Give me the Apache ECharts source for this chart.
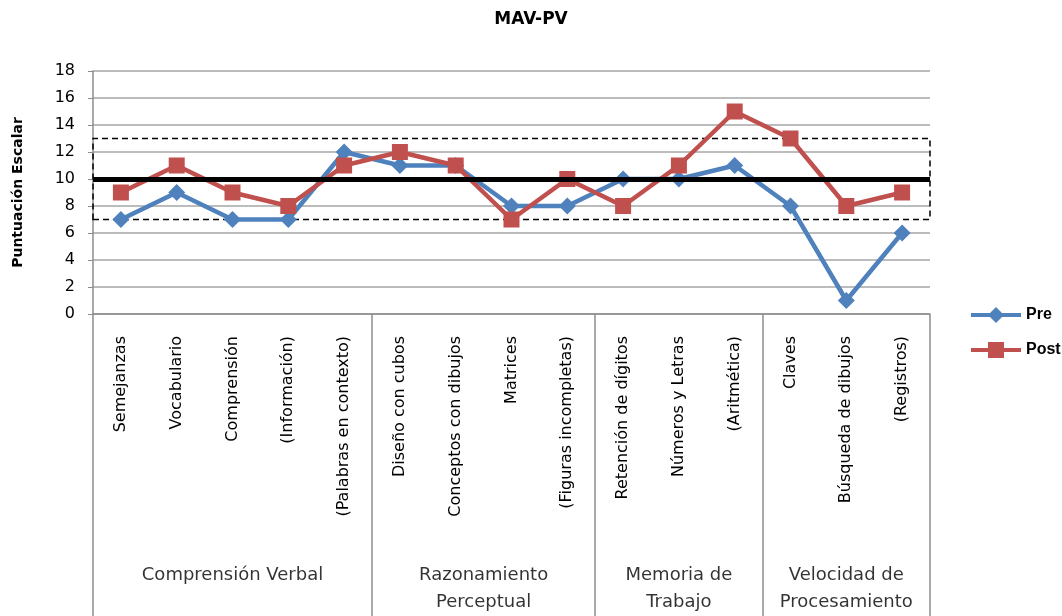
<!DOCTYPE html>
<html>
<head>
<meta charset="utf-8">
<script src="https://cdn.jsdelivr.net/npm/echarts@6/dist/echarts.min.js"></script>
<style>
  html, body { margin: 0; padding: 0; background: #fff; }
  #chart { width: 1062px; height: 616px; }
</style>
</head>
<body>
<div id="chart"></div>
<script>
// subtests on the x axis
const categories = [
  'Semejanzas', 'Vocabulario', 'Comprensión', '(Información)', '(Palabras en contexto)',
  'Diseño con cubos', 'Conceptos con dibujos', 'Matrices', '(Figuras incompletas)',
  'Retención de dígitos', 'Números y Letras', '(Aritmética)',
  'Claves', 'Búsqueda de dibujos', '(Registros)'
];

// index groups (second level of the axis)
const groupNames = ['Comprensión Verbal', 'Razonamiento\nPerceptual', 'Memoria de\nTrabajo', 'Velocidad de\nProcesamiento'];
const groupSizes = [5, 4, 3, 3];

const preValues = [7, 9, 7, 7, 12, 11, 11, 8, 8, 10, 10, 11, 8, 1, 6];
const postValues = [9, 11, 9, 8, 11, 12, 11, 7, 10, 8, 11, 15, 13, 8, 9];

// reference band
const meanLine = 10;
const bandRange = [7, 13];

const yTicks = { min: 0, max: 18, interval: 2 };

const GRID_LEFT = 93, GRID_RIGHT = 132, AXIS_Y = 314;
const FONT = 'DejaVu Sans';

// group boundaries and centres, built from the sizes
const boundaries = [0];
groupSizes.forEach(n => boundaries.push(boundaries[boundaries.length - 1] + n));
const groupLabels = groupNames.map((name, i) => [boundaries[i] + groupSizes[i] / 2, 0.179, name]);

const chart = echarts.init(document.getElementById('chart'));

chart.setOption({
  animation: false,
  title: {
    text: 'MAV-PV',
    left: 'center',
    top: 6,
    textStyle: { fontFamily: FONT, fontSize: 17, fontWeight: 'bold', color: '#000' }
  },
  legend: {
    orient: 'vertical',
    left: 964,
    top: 302,
    itemGap: 19,
    itemWidth: 50,
    itemHeight: 20,
    lineStyle: { width: 4 },
    textStyle: { fontFamily: 'Liberation Sans', fontSize: 16, fontWeight: 'bold', color: '#000' },
    data: ['Pre', 'Post']
  },
  grid: [
    { left: GRID_LEFT, right: GRID_RIGHT, top: 71, bottom: 616 - AXIS_Y },
    { left: GRID_LEFT, right: GRID_RIGHT, top: AXIS_Y, bottom: 0 }
  ],
  xAxis: [
    {
      type: 'category',
      gridIndex: 0,
      data: categories,
      boundaryGap: true,
      axisLine: { lineStyle: { color: '#8c8c8c', width: 1.5 } },
      axisTick: { show: false },
      axisLabel: {
        interval: 0,
        rotate: 90,
        margin: 22,
        fontFamily: FONT,
        fontSize: 16,
        color: '#000'
      }
    },
    {
      type: 'value',
      gridIndex: 1,
      min: 0,
      max: categories.length,
      show: false
    }
  ],
  yAxis: [
    {
      type: 'value',
      gridIndex: 0,
      min: yTicks.min,
      max: yTicks.max,
      interval: yTicks.interval,
      name: 'Puntuación Escalar',
      nameLocation: 'middle',
      nameGap: 68,
      nameTextStyle: { fontFamily: FONT, fontSize: 14, fontWeight: 'bold', color: '#000' },
      axisLine: { show: true, lineStyle: { color: '#8c8c8c', width: 1.5 } },
      axisTick: { show: true, length: 5, lineStyle: { color: '#8c8c8c' } },
      axisLabel: { margin: 18, fontFamily: FONT, fontSize: 16, color: '#000' },
      splitLine: { lineStyle: { color: '#a6a6a6', width: 1.5 } }
    },
    {
      type: 'value',
      gridIndex: 1,
      min: 0,
      max: 1,
      show: false
    }
  ],
  series: [
    {
      name: 'Pre',
      type: 'line',
      data: preValues,
      symbol: 'diamond',
      symbolSize: 17,
      lineStyle: { color: '#4f81bd', width: 4.5 },
      itemStyle: { color: '#4f81bd' },
      z: 3
    },
    {
      name: 'Post',
      type: 'line',
      data: postValues,
      symbol: 'rect',
      symbolSize: 16,
      lineStyle: { color: '#c0504d', width: 4.5 },
      itemStyle: { color: '#c0504d' },
      z: 4,
      markLine: {
        silent: true,
        symbol: 'none',
        label: { show: false },
        lineStyle: { color: '#000', width: 5, type: 'solid' },
        data: [{ yAxis: meanLine }]
      },
      markArea: {
        silent: true,
        label: { show: false },
        itemStyle: { color: 'rgba(0,0,0,0)', borderColor: '#000', borderWidth: 1.5, borderType: [6, 4] },
        data: [[{ yAxis: bandRange[0] }, { yAxis: bandRange[1] }]]
      }
    },
    {
      name: 'groups',
      type: 'scatter',
      xAxisIndex: 1,
      yAxisIndex: 1,
      symbolSize: 0,
      silent: true,
      data: groupLabels,
      label: {
        show: true,
        position: 'inside',
        verticalAlign: 'top',
        formatter: p => p.data[2],
        fontFamily: FONT,
        fontSize: 18,
        lineHeight: 27,
        color: '#000',
        textBorderWidth: 0
      },
      markLine: {
        silent: true,
        symbol: 'none',
        label: { show: false },
        lineStyle: { color: '#8c8c8c', width: 1.5, type: 'solid' },
        data: boundaries.map(b => ({ xAxis: b }))
      }
    }
  ]
});
</script>
</body>
</html>
